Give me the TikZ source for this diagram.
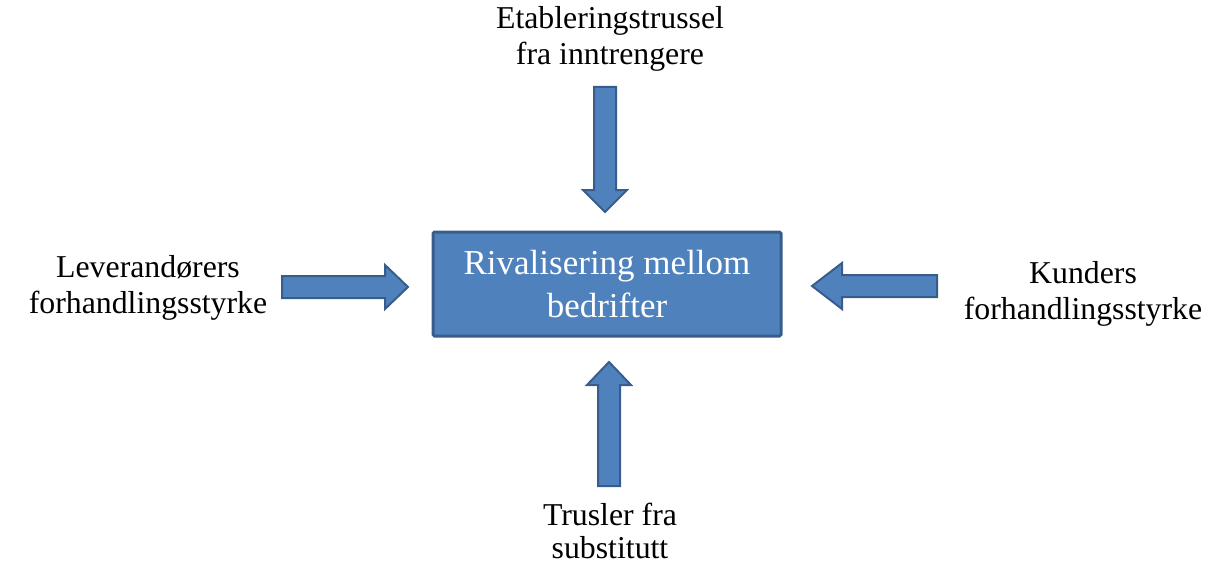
\documentclass[tikz,border=0pt]{standalone}
\usepackage{fontspec}
\setmainfont{Liberation Serif}
\definecolor{boxfill}{HTML}{4F81BD}
\definecolor{boxline}{HTML}{385D8A}
\tikzset{
  blockarrow/.style={fill=boxfill, draw=boxline, line width=2pt, line join=miter},
  lbl/.style={align=center, font=\fontsize{31.8}{35.5}\selectfont, inner sep=0pt},
  centerbox/.style={fill=boxfill, draw=boxline, line width=3pt, rounded corners=1.5pt,
    align=center, text=white, font=\fontsize{35}{43}\selectfont, inner sep=0pt,
    minimum width=348pt, minimum height=104pt}
}
\begin{document}
\begin{tikzpicture}[x=1pt,y=-1pt]
\useasboundingbox (0,0) rectangle (1215,567);
% centre box
\node[centerbox] (rival) at (607,284) {Rivalisering mellom\\bedrifter};
% labels
\node[lbl] (top) at (610,39) {Etableringstrussel\\fra inntrengere};
\node[lbl] (left) at (148,288) {Leverandørers\\forhandlingsstyrke};
\node[lbl] (right) at (1083,294) {Kunders\\forhandlingsstyrke};
\node[lbl, font=\fontsize{31.8}{33}\selectfont] (bottom) at (610,531) {Trusler fra\\substitutt};
% arrows
\draw[blockarrow] (594,87) -- (616,87) -- (616,190) -- (627,190) -- (605,212) -- (583,190) -- (594,190) -- cycle;
\draw[blockarrow] (598,486) -- (620,486) -- (620,385) -- (631,385) -- (609,362) -- (587,385) -- (598,385) -- cycle;
\draw[blockarrow] (282,276) -- (385,276) -- (385,265) -- (408,287) -- (385,309) -- (385,298) -- (282,298) -- cycle;
\draw[blockarrow] (937,275) -- (842,275) -- (842,263) -- (812,286) -- (842,309) -- (842,297) -- (937,297) -- cycle;
\end{tikzpicture}
\end{document}
